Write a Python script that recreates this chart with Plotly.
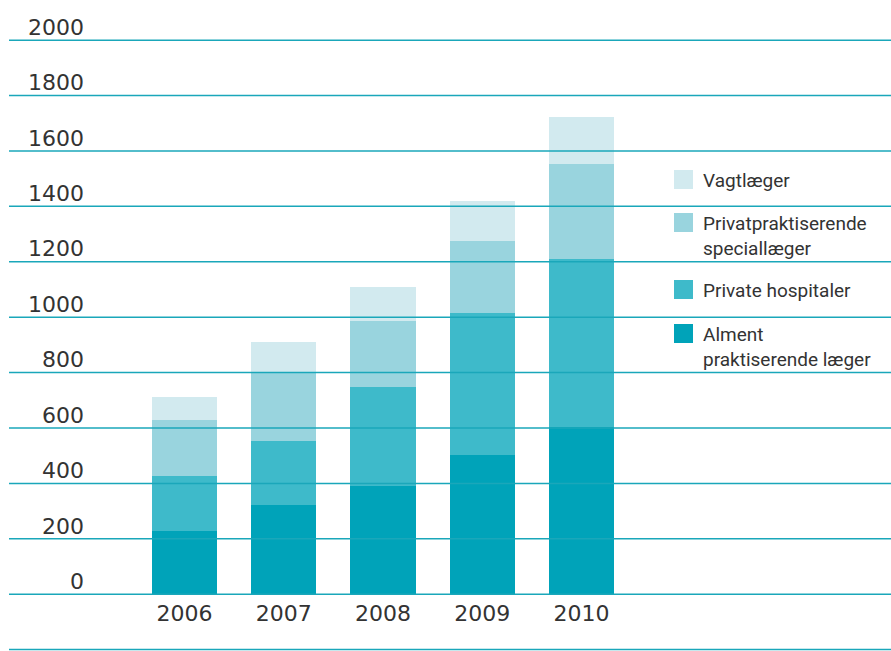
import plotly.graph_objects as go

years = ["2006", "2007", "2008", "2009", "2010"]
series_names = ["Alment<br>praktiserende læger", "Private hospitaler",
                "Privatpraktiserende<br>speciallæger", "Vagtlæger"]
alment = [228, 322, 391, 502, 603]
private_hospitaler = [199, 231, 357, 513, 607]
privatpraktiserende = [202, 246, 238, 260, 343]
vagtlaeger = [83, 111, 123, 144, 169]
series_values = [alment, private_hospitaler, privatpraktiserende, vagtlaeger]
colors = ["#00a3b9", "#3ebaca", "#99d4de", "#d2eaef"]
y_ticks = list(range(0, 2001, 200))
grid_values = [-200] + y_ticks

W, H = 891, 651
fig = go.Figure()
for name, vals, col in zip(series_names, series_values, colors):
    fig.add_trace(go.Bar(x=years, y=vals, name=name, marker=dict(color=col, line=dict(width=0)),
                         showlegend=False))

fig.update_layout(
    width=W, height=H, barmode="stack", bargap=0.345,
    margin=dict(l=0, r=0, t=0, b=0),
    paper_bgcolor="white", plot_bgcolor="white",
    xaxis=dict(type="category", domain=[88 / W, 1], range=[-0.972, 7.118],
               anchor="free", position=(H - 594.2) / H,
               showgrid=False, showline=False, zeroline=False, ticks="",
               tickfont=dict(family="DejaVu Sans", size=22, color="#333333"),
               ticklabelstandoff=4, automargin=False),
    yaxis=dict(domain=[0, 615 / H], range=[-205, 2015], tickvals=y_ticks,
               showgrid=False, showline=False, zeroline=False, ticks="",
               tickfont=dict(family="DejaVu Sans", size=22, color="#333333"),
               ticklabelshift=-13, ticklabelstandoff=3, automargin=False),
)

for v in grid_values:
    fig.add_shape(type="line", xref="paper", yref="y", x0=9 / W, x1=1, y0=v, y1=v,
                  line=dict(color="#1aa7ba", width=1.5), layer="above")

# legend (top to bottom: Vagtlæger ... Alment)
legend_tops = [324, 280, 213, 170]
for name, col, top in zip(series_names, colors, legend_tops):
    fig.add_shape(type="rect", xref="paper", yref="paper",
                  x0=674 / W, x1=693 / W, y0=1 - top / H, y1=1 - (top + 19) / H,
                  fillcolor=col, line=dict(width=0))
    fig.add_annotation(xref="paper", yref="paper", x=701 / W, y=1 - (top - 3) / H,
                       xanchor="left", yanchor="top", align="left", showarrow=False,
                       text=name, font=dict(family="Roboto", size=19, color="#333333"))

fig.write_html("out.html", config={"displayModeBar": False},
               post_script="document.body.style.margin='0';")
